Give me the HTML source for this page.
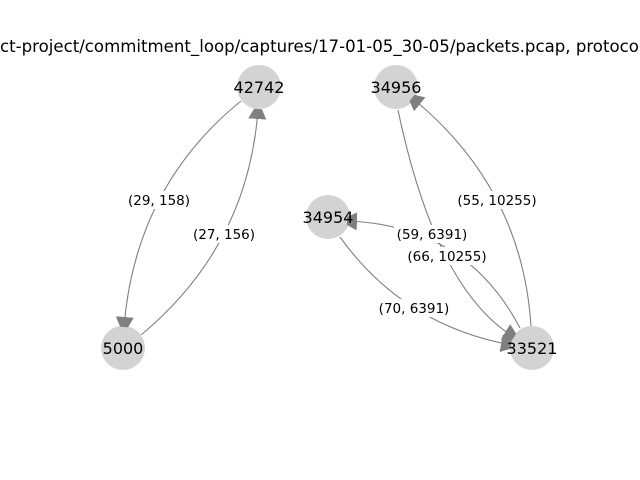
<!DOCTYPE html>
<html><head><style>
body{margin:0;background:#fff;}
svg{display:block;font-family:"DejaVu Sans","Liberation Sans",sans-serif;}
</style></head><body>
<svg width="640" height="480" viewBox="0 0 640 480" xmlns="http://www.w3.org/2000/svg">
<defs>
<marker id="a" markerUnits="userSpaceOnUse" markerWidth="14" markerHeight="20" refX="10" refY="10" orient="auto">
<polygon points="0,1 10,6 10,14 0,19" fill="#808080"/>
</marker>
</defs>
<text x="0" y="52" font-size="16.6" fill="#000">ct-project/commitment_loop/captures/17-01-05_30-05/packets.pcap, protocol</text>
<g fill="#d3d3d3">
<circle cx="259" cy="87" r="22"/>
<circle cx="396" cy="87" r="22"/>
<circle cx="328" cy="217" r="22"/>
<circle cx="123" cy="348" r="22"/>
<circle cx="532" cy="348" r="22"/>
</g>
<g fill="none" stroke="#808080" stroke-width="1.1" marker-end="url(#a)">
<path d="M241,101 Q135.5,186.5 124,327"/>
<path d="M141,335 Q248.5,245.5 258,109"/>
<path d="M531,326 Q522,187.5 412,98"/>
<path d="M398,110 Q435.5,289 514,337"/>
<path d="M520,328 Q466,225 347,221"/>
<path d="M340,237 Q403,325 511,345"/>
</g>
<g font-size="13.5" text-anchor="middle" fill="#000">
<rect x="125" y="191" width="68" height="18" fill="#fff"/>
<text x="159" y="205">(29, 158)</text>
<rect x="190" y="225" width="68" height="18" fill="#fff"/>
<text x="224" y="239">(27, 156)</text>
<rect x="454" y="191" width="86" height="18" fill="#fff"/>
<text x="497" y="205">(55, 10255)</text>
<rect x="394" y="225" width="76" height="18" fill="#fff"/>
<text x="432" y="239">(59, 6391)</text>
<rect x="404" y="247" width="86" height="18" fill="#fff"/>
<text x="447" y="261">(66, 10255)</text>
<rect x="376" y="299" width="76" height="18" fill="#fff"/>
<text x="414" y="313">(70, 6391)</text>
</g>
<g font-size="16" text-anchor="middle" fill="#000">
<text x="259" y="93">42742</text>
<text x="396" y="93">34956</text>
<text x="328" y="223">34954</text>
<text x="123" y="354">5000</text>
<text x="532" y="354">33521</text>
</g>
</svg>
</body></html>
